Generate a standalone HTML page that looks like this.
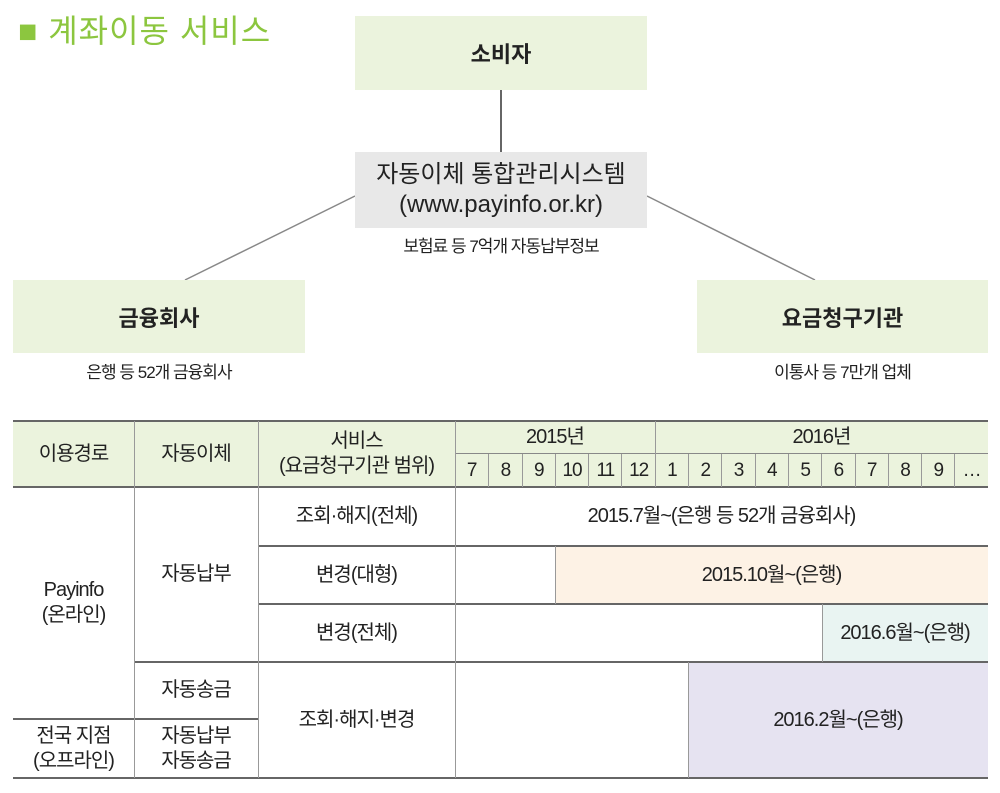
<!DOCTYPE html>
<html><head><meta charset="utf-8"><style>
body{margin:0;width:1000px;height:793px;background:#fff;position:relative;overflow:hidden;font-family:"Liberation Sans","Noto Sans CJK KR",sans-serif;color:#222}
.a{position:absolute;display:flex;align-items:center;justify-content:center;text-align:center;box-sizing:border-box}
.g{background:#ebf3dd}
.t{font-size:20px;line-height:25px;letter-spacing:-1px}
.c{font-size:17px;letter-spacing:-1px}
.hl{position:absolute;background:#666;height:2px}
.vl{position:absolute;background:#999;width:1px}
</style></head><body>
<div style="position:absolute;left:18px;top:6px;font-size:32px;color:#8cc63f;letter-spacing:1px">■ 계좌이동 서비스</div>
<svg style="position:absolute;left:0;top:0" width="1000" height="400">
<line x1="501" y1="90" x2="501" y2="152" stroke="#666" stroke-width="2"/>
<line x1="355" y1="196" x2="185" y2="280" stroke="#888" stroke-width="1.5"/>
<line x1="647" y1="196" x2="815" y2="280" stroke="#888" stroke-width="1.5"/>
</svg>
<div class="a g" style="left:355px;top:16px;width:292px;height:74px;font-size:22px;font-weight:bold">소비자</div>
<div class="a" style="left:355px;top:152px;width:292px;height:76px;background:#e8e8e8;font-size:24px;line-height:30px;flex-direction:column">자동이체 통합관리시스템<br>(www.payinfo.or.kr)</div>
<div class="a c" style="left:355px;top:230px;width:292px;height:28px">보험료 등 7억개 자동납부정보</div>
<div class="a g" style="left:13px;top:280px;width:292px;height:73px;font-size:22px;font-weight:bold">금융회사</div>
<div class="a c" style="left:13px;top:356px;width:292px;height:28px">은행 등 52개 금융회사</div>
<div class="a g" style="left:697px;top:280px;width:291px;height:73px;font-size:22px;font-weight:bold">요금청구기관</div>
<div class="a c" style="left:697px;top:356px;width:291px;height:28px">이통사 등 7만개 업체</div>

<div class="a g" style="left:13px;top:421px;width:975px;height:66px"></div>
<div class="a" style="left:555px;top:546px;width:433px;height:58px;background:#fdf2e5"></div>
<div class="a" style="left:822px;top:604px;width:166px;height:58px;background:#e9f4f2"></div>
<div class="a" style="left:688px;top:662px;width:300px;height:116px;background:#e6e3f1"></div>

<div class="hl" style="left:13px;top:420px;width:975px"></div>
<div class="hl" style="left:13px;top:486px;width:975px"></div>
<div class="hl" style="left:258px;top:545px;width:730px;height:1.5px"></div>
<div class="hl" style="left:258px;top:603px;width:730px;height:1.5px"></div>
<div class="hl" style="left:134px;top:661px;width:854px;height:1.5px"></div>
<div class="hl" style="left:13px;top:718px;width:245px;height:1.5px"></div>
<div class="hl" style="left:13px;top:777px;width:975px"></div>
<div style="position:absolute;left:455px;top:453px;width:533px;height:1px;background:#888"></div>
<div class="vl" style="left:134px;top:421px;height:357px"></div>
<div class="vl" style="left:258px;top:421px;height:357px"></div>
<div class="vl" style="left:455px;top:421px;height:357px"></div>
<div class="vl" style="left:655px;top:421px;height:66px"></div>
<div class="vl" style="left:555px;top:546px;height:58px"></div>
<div class="vl" style="left:822px;top:604px;height:58px"></div>
<div class="vl" style="left:688px;top:662px;height:116px"></div>

<div class="a t" style="left:13px;top:421px;width:121px;height:66px">이용경로</div>
<div class="a t" style="left:134px;top:421px;width:124px;height:66px">자동이체</div>
<div class="a t" style="left:258px;top:421px;width:197px;height:66px">서비스<br>(요금청구기관 범위)</div>
<div class="a t" style="left:455px;top:421px;width:200px;height:32px">2015년</div>
<div class="a t" style="left:655px;top:421px;width:333px;height:32px">2016년</div>
<div style="position:absolute;left:455px;top:454px;width:533px;height:33px;display:flex">
<script>
var m=[7,8,9,10,11,12,1,2,3,4,5,6,7,8,9,'…'];
document.write(m.map(function(x,i){return '<div style="width:33.3px;height:33px;display:flex;align-items:center;justify-content:center;font-size:19px;letter-spacing:-1px;box-sizing:border-box;'+(i?'border-left:1px solid #999':'')+'">'+x+'</div>'}).join(''));
</script>
</div>
<div class="a t" style="left:13px;top:487px;width:121px;height:231px">Payinfo<br>(온라인)</div>
<div class="a t" style="left:13px;top:719px;width:121px;height:59px">전국 지점<br>(오프라인)</div>
<div class="a t" style="left:134px;top:487px;width:124px;height:175px">자동납부</div>
<div class="a t" style="left:134px;top:662px;width:124px;height:57px">자동송금</div>
<div class="a t" style="left:134px;top:719px;width:124px;height:59px">자동납부<br>자동송금</div>
<div class="a t" style="left:258px;top:487px;width:197px;height:59px">조회·해지(전체)</div>
<div class="a t" style="left:258px;top:546px;width:197px;height:58px">변경(대형)</div>
<div class="a t" style="left:258px;top:604px;width:197px;height:58px">변경(전체)</div>
<div class="a t" style="left:258px;top:662px;width:197px;height:116px">조회·해지·변경</div>
<div class="a t" style="left:455px;top:487px;width:533px;height:59px">2015.7월~(은행 등 52개 금융회사)</div>
<div class="a t" style="left:555px;top:546px;width:433px;height:58px">2015.10월~(은행)</div>
<div class="a t" style="left:822px;top:604px;width:166px;height:58px">2016.6월~(은행)</div>
<div class="a t" style="left:688px;top:662px;width:300px;height:116px">2016.2월~(은행)</div>
</body></html>
